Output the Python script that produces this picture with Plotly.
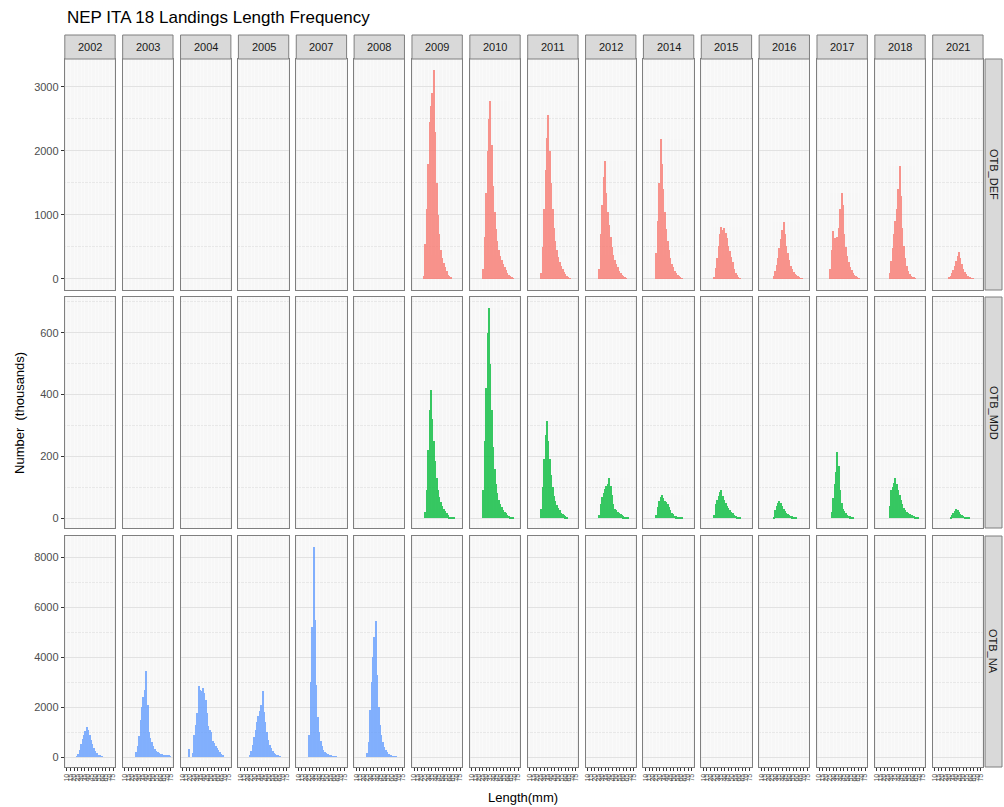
import plotly.graph_objects as go

# ---------------- data ----------------
YEARS = ['2002', '2003', '2004', '2005', '2007', '2008', '2009', '2010',
         '2011', '2012', '2014', '2015', '2016', '2017', '2018', '2021']
FLEETS = ['OTB_DEF', 'OTB_MDD', 'OTB_NA']
LENGTHS = list(range(16, 78, 2))          # length classes (mm)
X_TICKS = list(range(10, 80, 5))
Y_TICKS_DEF = [0, 1000, 2000, 3000]
Y_TICKS_MDD = [0, 200, 400, 600]
Y_TICKS_NA = [0, 2000, 4000, 6000, 8000]

# Number (thousands) per length class, OTB_DEF
DEF_2009 = [0, 0, 0, 0, 50, 550, 1100, 1800, 2450, 2700, 2900, 3270, 2300, 1500, 1000, 700, 450, 330, 250, 180, 120, 70, 40, 20, 0, 0, 0, 0, 0, 0, 0]
DEF_2010 = [0, 0, 0, 0, 0, 150, 650, 1350, 2000, 2500, 2780, 2100, 1450, 1050, 780, 600, 460, 360, 290, 230, 180, 140, 100, 70, 45, 30, 15, 0, 0, 0, 0]
DEF_2011 = [0, 0, 0, 0, 0, 100, 500, 1100, 1700, 2200, 2560, 2000, 1500, 1100, 800, 600, 450, 340, 260, 200, 150, 110, 80, 50, 30, 15, 0, 0, 0, 0, 0]
DEF_2012 = [0, 0, 0, 0, 0, 150, 700, 1150, 1600, 1850, 1350, 1050, 850, 650, 500, 380, 290, 230, 180, 130, 100, 70, 45, 25, 10, 0, 0, 0, 0, 0, 0]
DEF_2014 = [0, 0, 0, 0, 0, 400, 900, 1500, 2190, 1800, 1400, 1050, 780, 600, 450, 330, 240, 180, 130, 95, 70, 50, 30, 15, 0, 0, 0, 0, 0, 0, 0]
DEF_2015 = [0, 0, 0, 0, 0, 30, 170, 330, 520, 700, 820, 760, 800, 720, 640, 520, 430, 350, 260, 160, 100, 60, 30, 10, 0, 0, 0, 0, 0, 0, 0]
DEF_2016 = [0, 0, 0, 0, 0, 0, 50, 120, 220, 330, 480, 620, 760, 890, 700, 520, 400, 290, 210, 150, 110, 80, 55, 40, 25, 15, 8, 0, 0, 0, 0]
DEF_2017 = [0, 0, 0, 0, 0, 150, 450, 750, 640, 620, 650, 800, 1100, 1340, 1150, 700, 500, 360, 260, 190, 140, 100, 70, 45, 25, 12, 0, 0, 0, 0, 0]
DEF_2018 = [0, 0, 0, 0, 0, 0, 100, 280, 480, 700, 900, 1100, 1400, 1760, 1300, 800, 520, 330, 200, 130, 80, 50, 30, 20, 10, 0, 0, 0, 0, 0, 0]
DEF_2021 = [0, 0, 0, 0, 0, 0, 0, 20, 50, 90, 140, 200, 280, 360, 420, 330, 230, 160, 110, 75, 50, 30, 18, 10, 5, 0, 0, 0, 0, 0, 0]

# OTB_MDD
MDD_2009 = [0, 0, 0, 0, 0, 20, 90, 220, 350, 415, 320, 250, 185, 130, 90, 68, 52, 40, 30, 22, 15, 10, 5, 3, 2, 1, 0, 0, 0, 0, 0]
MDD_2010 = [0, 0, 0, 0, 0, 90, 250, 420, 600, 680, 500, 350, 230, 160, 110, 80, 60, 45, 35, 26, 20, 15, 10, 7, 5, 3, 2, 0, 0, 0, 0]
MDD_2011 = [0, 0, 0, 0, 0, 30, 100, 190, 270, 315, 250, 190, 140, 100, 72, 55, 42, 32, 25, 18, 13, 9, 6, 3, 0, 0, 0, 0, 0, 0, 0]
MDD_2012 = [0, 0, 0, 0, 0, 10, 45, 68, 80, 95, 105, 112, 130, 105, 75, 45, 30, 25, 21, 17, 13, 9, 6, 4, 2, 1, 0, 0, 0, 0, 0]
MDD_2014 = [0, 0, 0, 0, 0, 10, 35, 55, 70, 74, 65, 56, 52, 45, 36, 26, 18, 12, 8, 6, 4, 3, 2, 1, 0, 0, 0, 0, 0, 0, 0]
MDD_2015 = [0, 0, 0, 0, 0, 10, 45, 60, 72, 85, 92, 72, 60, 50, 40, 32, 25, 20, 15, 11, 8, 5, 3, 2, 0, 0, 0, 0, 0, 0, 0]
MDD_2016 = [0, 0, 0, 0, 0, 0, 5, 25, 38, 48, 57, 48, 38, 30, 23, 17, 13, 10, 8, 6, 4, 3, 2, 0, 0, 0, 0, 0, 0, 0, 0]
MDD_2017 = [0, 0, 0, 0, 0, 0, 20, 65, 110, 150, 215, 170, 90, 50, 30, 22, 15, 11, 8, 6, 4, 2, 0, 0, 0, 0, 0, 0, 0, 0, 0]
MDD_2018 = [0, 0, 0, 0, 0, 0, 40, 90, 100, 115, 130, 110, 90, 75, 58, 45, 33, 26, 21, 17, 14, 11, 9, 7, 5, 3, 2, 0, 0, 0, 0]
MDD_2021 = [0, 0, 0, 0, 0, 0, 0, 0, 5, 10, 16, 22, 28, 25, 20, 14, 10, 7, 5, 3, 2, 1, 0, 0, 0, 0, 0, 0, 0, 0, 0]

# OTB_NA
NA_2002 = [0, 0, 0, 0, 40, 120, 300, 540, 720, 880, 1050, 1200, 1100, 900, 700, 520, 360, 240, 160, 100, 60, 30, 10, 0, 0, 0, 0, 0, 0, 0, 0]
NA_2003 = [0, 0, 0, 0, 0, 200, 450, 850, 1500, 2000, 2400, 2700, 3450, 2100, 1000, 750, 600, 450, 330, 250, 200, 170, 140, 110, 90, 80, 70, 60, 50, 30, 0]
NA_2004 = [0, 340, 0, 0, 150, 900, 1300, 1750, 2850, 2700, 2650, 2750, 2550, 2300, 1750, 1250, 1080, 1000, 650, 550, 450, 350, 300, 200, 120, 60, 0, 0, 0, 0, 0]
NA_2005 = [0, 0, 0, 0, 80, 250, 500, 800, 1100, 1400, 1650, 1850, 2100, 2650, 1800, 1400, 1000, 700, 500, 350, 250, 170, 120, 80, 50, 30, 0, 0, 0, 0, 0]
NA_2007 = [0, 0, 0, 0, 0, 900, 3000, 5200, 8400, 5500, 2900, 1600, 1000, 650, 450, 300, 200, 150, 110, 80, 60, 40, 25, 15, 8, 0, 0, 0, 0, 0, 0]
NA_2008 = [0, 0, 0, 0, 0, 150, 600, 1900, 3000, 4000, 4800, 5450, 3300, 2000, 1300, 900, 600, 420, 300, 200, 130, 90, 60, 35, 15, 5, 0, 0, 0, 0, 0]

SERIES = {
    ('OTB_DEF', '2009'): DEF_2009, ('OTB_DEF', '2010'): DEF_2010, ('OTB_DEF', '2011'): DEF_2011,
    ('OTB_DEF', '2012'): DEF_2012, ('OTB_DEF', '2014'): DEF_2014, ('OTB_DEF', '2015'): DEF_2015,
    ('OTB_DEF', '2016'): DEF_2016, ('OTB_DEF', '2017'): DEF_2017, ('OTB_DEF', '2018'): DEF_2018,
    ('OTB_DEF', '2021'): DEF_2021,
    ('OTB_MDD', '2009'): MDD_2009, ('OTB_MDD', '2010'): MDD_2010, ('OTB_MDD', '2011'): MDD_2011,
    ('OTB_MDD', '2012'): MDD_2012, ('OTB_MDD', '2014'): MDD_2014, ('OTB_MDD', '2015'): MDD_2015,
    ('OTB_MDD', '2016'): MDD_2016, ('OTB_MDD', '2017'): MDD_2017, ('OTB_MDD', '2018'): MDD_2018,
    ('OTB_MDD', '2021'): MDD_2021,
    ('OTB_NA', '2002'): NA_2002, ('OTB_NA', '2003'): NA_2003, ('OTB_NA', '2004'): NA_2004,
    ('OTB_NA', '2005'): NA_2005, ('OTB_NA', '2007'): NA_2007, ('OTB_NA', '2008'): NA_2008,
}

# ---------------- styling / layout ----------------
W, H = 1004, 807
COLORS = {'OTB_DEF': '#F8766D', 'OTB_MDD': '#00BA38', 'OTB_NA': '#619CFF'}
Y_RANGES = {'OTB_DEF': [-172, 3437], 'OTB_MDD': [-32, 716], 'OTB_NA': [-400, 8840]}
Y_TICKS = {'OTB_DEF': Y_TICKS_DEF, 'OTB_MDD': Y_TICKS_MDD, 'OTB_NA': Y_TICKS_NA}
X_RANGE = [7, 78]

PANEL_L, PANEL_R = 63, 984
PW = 50.5
GAP = (PANEL_R - PANEL_L - len(YEARS) * PW) / (len(YEARS) - 1)
ROW_TOPS = [59, 297, 536]
PH = 231
STRIP_TOP = 35
STRIP_X0, STRIP_X1 = 986, 1003

FONT = 'Liberation Sans, Arial, sans-serif'
PANEL_BG = '#EFEFEF'
BORDER = '#7F7F7F'
STRIP_BG = '#D9D9D9'

fig = go.Figure()
layout = dict(
    width=W, height=H,
    margin=dict(l=0, r=0, t=0, b=0),
    paper_bgcolor='white', plot_bgcolor=PANEL_BG,
    showlegend=False, bargap=0,
    font=dict(family=FONT, color='#4D4D4D'),
)
shapes = []
annotations = []

for r, fleet in enumerate(FLEETS):
    top = ROW_TOPS[r]
    ydom = [1 - (top + PH) / H, 1 - top / H]
    ticks = Y_TICKS[fleet]
    for c, year in enumerate(YEARS):
        left = PANEL_L + c * (PW + GAP)
        xdom = [left / W, (left + PW) / W]
        k = r * len(YEARS) + c + 1
        xa = 'xaxis' if k == 1 else f'xaxis{k}'
        ya = 'yaxis' if k == 1 else f'yaxis{k}'
        xid = 'x' if k == 1 else f'x{k}'
        yid = 'y' if k == 1 else f'y{k}'
        bottom_row = (r == len(FLEETS) - 1)
        layout[xa] = dict(
            domain=xdom, anchor=yid, range=X_RANGE, tickmode='array',
            tickvals=X_TICKS, ticktext=[str(v) for v in X_TICKS],
            showticklabels=bottom_row, tickangle=-90,
            tickfont=dict(size=7, color='#4D4D4D'),
            ticks='outside' if bottom_row else '', ticklen=3, tickcolor='#333333', tickwidth=0.6,
            showgrid=True, gridcolor='#FAFAFA', gridwidth=0.6,
            minor=dict(dtick=1.25, tick0=10, showgrid=True, gridcolor='#F7F7F7', gridwidth=0.4),
            zeroline=False, showline=True, mirror=True, linecolor=BORDER, linewidth=1,
            fixedrange=True,
        )
        minor_dt = (ticks[1] - ticks[0]) / 2
        layout[ya] = dict(
            domain=ydom, anchor=xid, range=Y_RANGES[fleet], tickmode='array',
            tickvals=ticks, ticktext=[str(v) for v in ticks],
            showticklabels=(c == 0), tickfont=dict(size=11, color='#4D4D4D'),
            ticks='outside' if c == 0 else '', ticklen=3, tickcolor='#333333',
            showgrid=True, gridcolor='#E2E2E2', gridwidth=1,
            minor=dict(dtick=minor_dt, tick0=0, showgrid=True, gridcolor='#E8E8E8', gridwidth=0.6),
            zeroline=False, showline=True, mirror=True, linecolor=BORDER, linewidth=1,
            fixedrange=True,
        )
        vals = SERIES.get((fleet, year))
        if vals is not None:
            fig.add_trace(go.Bar(
                x=LENGTHS, y=vals, width=2, xaxis=xid, yaxis=yid,
                marker=dict(color=COLORS[fleet], line=dict(width=0)),
                opacity=0.78, hoverinfo='x+y',
            ))
        else:
            # empty facet: keep the panel drawn
            fig.add_trace(go.Scatter(x=[None], y=[None], xaxis=xid, yaxis=yid,
                                     mode='markers', hoverinfo='skip'))
        # column strip (top row only)
        if r == 0:
            shapes.append(dict(type='rect', xref='paper', yref='paper',
                               x0=left / W, x1=(left + PW) / W,
                               y0=1 - top / H, y1=1 - STRIP_TOP / H,
                               fillcolor=STRIP_BG, line=dict(color=BORDER, width=1), layer='above'))
            annotations.append(dict(text=year, xref='paper', yref='paper',
                                    x=(left + PW / 2) / W, y=1 - (STRIP_TOP + (top - STRIP_TOP) / 2) / H,
                                    showarrow=False, font=dict(size=11, color='#1A1A1A'),
                                    xanchor='center', yanchor='middle'))
    # row strip
    shapes.append(dict(type='rect', xref='paper', yref='paper',
                       x0=STRIP_X0 / W, x1=STRIP_X1 / W, y0=ydom[0], y1=ydom[1],
                       fillcolor=STRIP_BG, line=dict(color=BORDER, width=1), layer='above'))
    annotations.append(dict(text=fleet, xref='paper', yref='paper',
                            x=(STRIP_X0 + STRIP_X1) / 2 / W, y=(ydom[0] + ydom[1]) / 2,
                            showarrow=False, textangle=90, font=dict(size=11, color='#1A1A1A'),
                            xanchor='center', yanchor='middle'))

annotations.append(dict(text='NEP ITA 18 Landings Length Frequency', xref='paper', yref='paper',
                        x=63 / W, y=1 - 18 / H, xanchor='left', yanchor='middle', showarrow=False,
                        font=dict(size=17, color='#000000')))
annotations.append(dict(text='Number  (thousands)', xref='paper', yref='paper',
                        x=18 / W, y=1 - 413 / H, xanchor='center', yanchor='middle', showarrow=False,
                        textangle=-90, font=dict(size=13, color='#000000')))
annotations.append(dict(text='Length(mm)', xref='paper', yref='paper',
                        x=523 / W, y=1 - 797 / H, xanchor='center', yanchor='middle', showarrow=False,
                        font=dict(size=13, color='#000000')))

layout['shapes'] = shapes
layout['annotations'] = annotations
fig.update_layout(**layout)

fig.write_html('out.html', config={'displayModeBar': False},
               post_script="document.body.style.margin='0';document.body.style.overflow='hidden';")
